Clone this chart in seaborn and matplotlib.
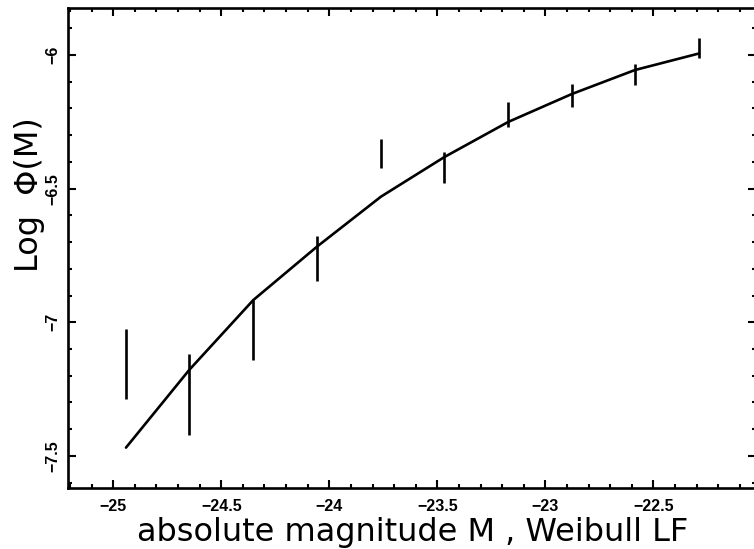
import matplotlib
matplotlib.use("Agg")
import matplotlib.pyplot as plt
from matplotlib.ticker import MultipleLocator, FuncFormatter
import seaborn as sns
import pandas as pd
import numpy as np

# ---- data ----
mag_points = [-24.941, -24.648, -24.352, -24.057, -23.761, -23.468, -23.171, -22.878, -22.585, -22.288]
logphi_low = [-7.287, -7.422, -7.141, -6.845, -6.424, -6.480, -6.268, -6.196, -6.112, -6.012]
logphi_high = [-7.025, -7.119, -6.917, -6.676, -6.314, -6.362, -6.175, -6.108, -6.034, -5.938]
model_logphi = [-7.469, -7.178, -6.917, -6.717, -6.530, -6.382, -6.250, -6.146, -6.056, -5.994]

x_ticks = [-25, -24.5, -24, -23.5, -23, -22.5]
y_ticks = [-7.5, -7, -6.5, -6]
x_label = "absolute magnitude M , Weibull LF"
y_label = "Log  \u03a6(M)"

sns.set_theme(style="ticks")
plt.rcParams['font.family'] = ['Liberation Sans', 'DejaVu Sans']
plt.rcParams['text.color'] = 'black'
plt.rcParams['axes.labelcolor'] = 'black'
plt.rcParams['xtick.color'] = 'black'
plt.rcParams['ytick.color'] = 'black'

W, H = 754, 549
fig = plt.figure(figsize=(W / 100, H / 100), dpi=100)
left, right, top, bottom = 68.3, 756.0, 8.0, 487.7
ax = fig.add_axes([left / W, 1 - bottom / H, (right - left) / W, (bottom - top) / H])

df = pd.DataFrame({"M": mag_points, "phi": model_logphi})
sns.lineplot(data=df, x="M", y="phi", ax=ax, color="black", linewidth=1.9, sort=True)
ax.vlines(mag_points, logphi_low, logphi_high, colors="black", linewidth=1.9)

ax.set_xlim(-25.208, -22.025)
ax.set_ylim(-7.619, -5.824)

ax.set_xticks(x_ticks)
ax.set_yticks(y_ticks)
ax.xaxis.set_minor_locator(MultipleLocator(0.1))
ax.yaxis.set_minor_locator(MultipleLocator(0.1))
fmt = FuncFormatter(lambda v, p: ("%g" % v).replace("-", "\u2212"))
ax.xaxis.set_major_formatter(fmt)
ax.yaxis.set_major_formatter(fmt)

ax.tick_params(which="both", direction="in", top=True, right=True, color="black")
ax.tick_params(which="major", length=6, width=1.5)
ax.tick_params(which="minor", length=3, width=1.5)
ax.tick_params(axis="x", which="major", pad=8, labelsize=11.5, labelcolor="black")
ax.tick_params(axis="y", which="major", pad=6, labelsize=11.5, labelcolor="black")
for lab in ax.get_xticklabels() + ax.get_yticklabels():
    lab.set_fontweight("bold")
for lab in ax.get_yticklabels():
    lab.set_rotation(90)
    lab.set_va("center")

for s in ax.spines.values():
    s.set_linewidth(1.9)
    s.set_color("black")

ax.set_xlabel(x_label, fontsize=23, family=['DejaVu Sans'], color="black")
ax.set_ylabel(y_label, fontsize=23, family=['DejaVu Sans'], color="black")
ax.xaxis.set_label_coords(0.5, -0.062)
ax.yaxis.set_label_coords(-0.034, 0.61)

fig.savefig("out.png", dpi=100)
